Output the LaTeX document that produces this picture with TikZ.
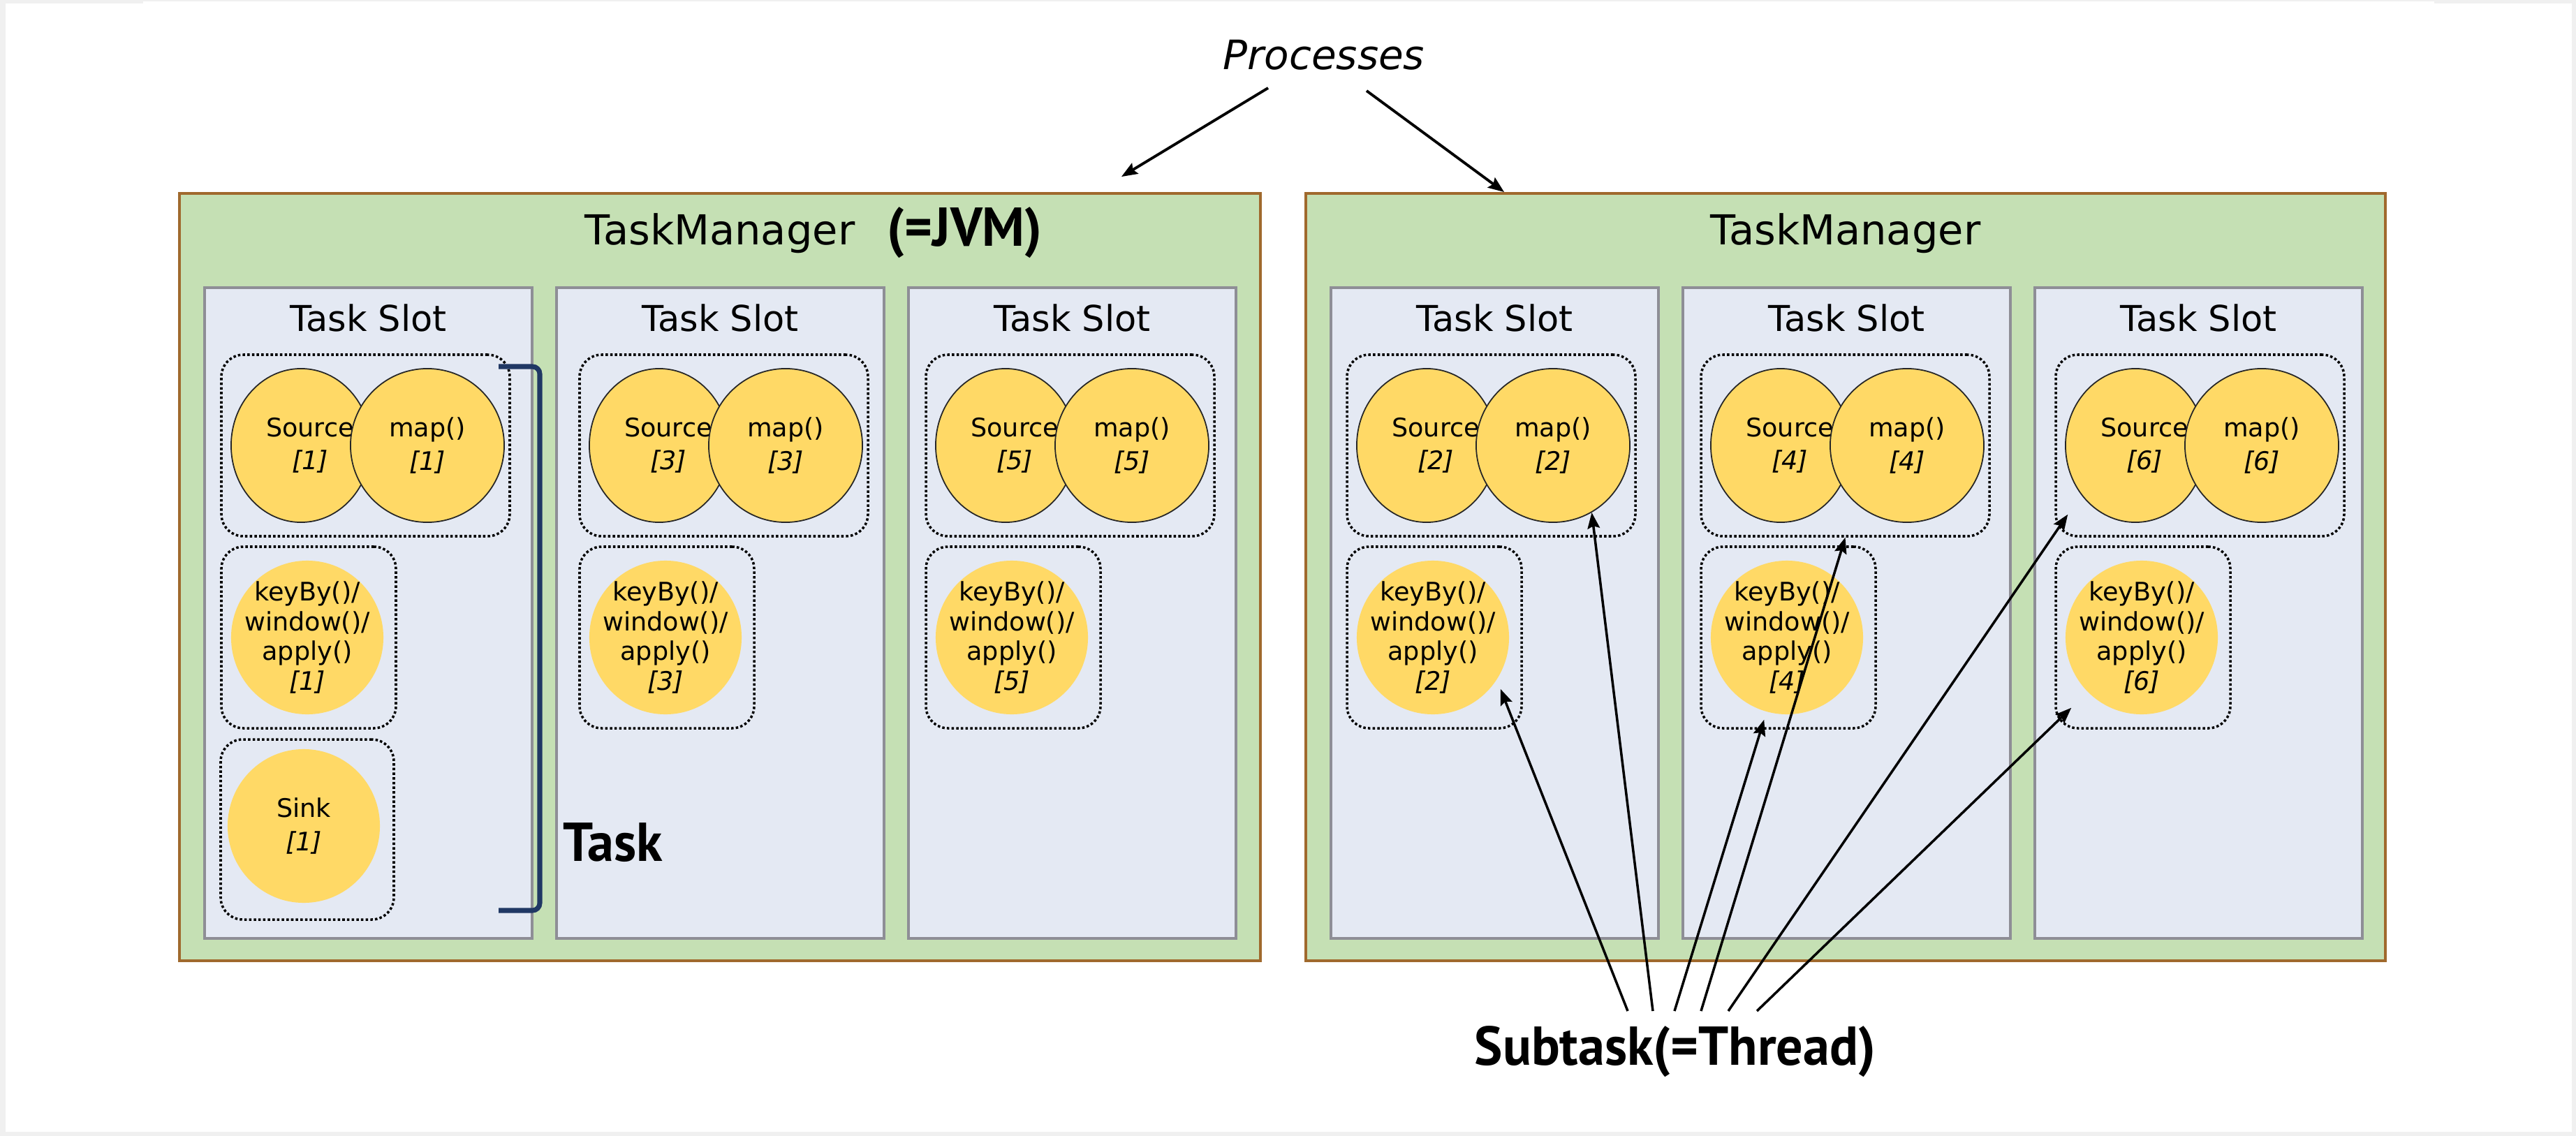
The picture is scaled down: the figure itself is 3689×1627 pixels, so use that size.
\documentclass[tikz,border=0pt]{standalone}
\usepackage{fontspec}
\setmainfont{DejaVu Sans}
\newfontfamily\heavy{PT Sans}[FakeStretch=0.97]
\usetikzlibrary{arrows.meta,calc,fit,shapes.geometric}

\definecolor{tmfill}{HTML}{C5E0B4}
\definecolor{tmline}{HTML}{A0692D}
\definecolor{slotfill}{HTML}{E4E9F3}
\definecolor{slotline}{HTML}{8E8E96}
\definecolor{opfill}{HTML}{FFD966}
\definecolor{navy}{HTML}{203864}
\definecolor{framegray}{HTML}{F0F0F0}

\tikzset{
  tm/.style={draw=tmline, fill=tmfill, line width=1.1pt, inner sep=0pt},
  slot/.style={draw=slotline, fill=slotfill, line width=1.2pt, inner sep=0pt},
  grp/.style={draw=black, line width=1pt, dash pattern=on 1pt off 0.9pt,
              rounded corners=9pt, inner sep=0pt},
  chain/.style={ellipse, draw=black!85, line width=0.5pt, fill=opfill,
                inner sep=0pt, minimum height=2.2cm},
  solo/.style={ellipse, fill=opfill, inner sep=0pt,
               minimum width=2.18cm, minimum height=2.2cm},
  optxt/.style={align=center, inner sep=0pt,
                font=\fontsize{10.4pt}{13.4pt}\selectfont},
  optxtlong/.style={align=center, inner sep=0pt,
                font=\fontsize{10.4pt}{12.2pt}\selectfont},
  tmtitle/.style={anchor=base, inner sep=0pt,
                  font=\fontsize{16.8pt}{20pt}\selectfont},
  slottitle/.style={anchor=base, inner sep=0pt,
                    font=\fontsize{14.5pt}{17pt}\selectfont},
  heavylbl/.style={inner sep=0pt, font=\heavy\bfseries\fontsize{22.3pt}{26pt}\selectfont},
  note/.style={anchor=base, inner sep=0pt,
               font=\itshape\fontsize{16.5pt}{20pt}\selectfont},
  ptr/.style={draw=black, line width=1pt,
              -{Stealth[length=6.5pt,width=5pt,inset=1pt]}},
  brace/.style={draw=navy, line width=2pt, rounded corners=3pt},
}

% One task slot's operator chains: #1 slot id, #2 left edge of the chains, #3 subtask index
\newcommand\opslot[3]{%
  \node[grp, fit={(#2,508) (#2+413,768)}] (ga#1) {};
  \node[chain, minimum width=2.0cm] (src#1) at (#2+114,638) {};
  \node[optxt] at ($(src#1)+(13,0)$) {Source\\\textit{[#3]}};
  \node[chain, minimum width=2.2cm] (map#1) at (#2+295,638) {};
  \node[optxt] at (map#1) {map()\\\textit{[#3]}};
  \node[grp, fit={(#2,783) (#2+250,1043)}] (gb#1) {};
  \node[solo] (kb#1) at (#2+123,913) {};
  \node[optxtlong] at (kb#1) {keyBy()/\\window()/\\apply()\\\textit{[#3]}};
}

\begin{document}
\begin{tikzpicture}[x=0.01cm, y=-0.01cm]
  \useasboundingbox (0,0) rectangle (3689,1627);

  % page frame
  \fill[framegray] (0,0) rectangle (3689,1627);
  \fill[white] (8,5) rectangle (3683,1621);
  \fill[white] (205,2) rectangle (3486,5);

  % task managers
  \node[tm, fit={(257,277) (1805,1376)}] (tm1) {};
  \node[tm, fit={(1870,277) (3416,1376)}] (tm2) {};
  \node[tmtitle] (tm1t) at (1031,350) {TaskManager};
  \node[tmtitle] (tm2t) at (2643,350) {TaskManager};
  \node[heavylbl, anchor=base west] (jvm) at (1270,352) {(=JVM)};

  % task slots
  \node[slot, fit={(293,412) (762,1344)}] (slot1) {};
  \node[slot, fit={(797,412) (1266,1344)}] (slot3) {};
  \node[slot, fit={(1301,412) (1770,1344)}] (slot5) {};
  \node[slot, fit={(1906,412) (2375,1344)}] (slot2) {};
  \node[slot, fit={(2410,412) (2879,1344)}] (slot4) {};
  \node[slot, fit={(2914,412) (3383,1344)}] (slot6) {};
  \foreach \s in {1,2,3,4,5,6}
    \node[slottitle] (slot\s t) at ($(slot\s.north)+(0,65)$) {Task Slot};

  % operator chains
  \opslot{1}{317}{1}
  \opslot{3}{830}{3}
  \opslot{5}{1326}{5}
  \opslot{2}{1929}{2}
  \opslot{4}{2436}{4}
  \opslot{6}{2944}{6}

  % sink chain of the first slot
  \node[grp, fit={(316,1059) (564,1317)}] (gc1) {};
  \node[solo] (sink1) at (435,1183) {};
  \node[optxt] at (sink1) {Sink\\\textit{[1]}};

  % bracket marking one task
  \draw[brace] (714,525) -- (773,525) -- (773,1304) -- (714,1304);
  \node[heavylbl, anchor=base west] (tasklbl) at (806,1233) {Task};

  % processes
  \node[note] (proc) at (1896,100) {Processes};
  \coordinate (p1) at (1816,126);
  \coordinate (p2) at (1957,130);
  \draw[ptr, line width=1.1pt] (p1) -- ($(tm1.north east)+(-201,-22)$);
  \draw[ptr, line width=1.1pt] (p2) -- ($(tm2.north west)+(286,0)$);

  % subtasks
  \node[heavylbl, anchor=base] (sub) at (2399,1525) {Subtask(=Thread)};
  \coordinate (s1) at (2331,1448);
  \coordinate (s2) at (2367,1448);
  \coordinate (s3) at (2398,1448);
  \coordinate (s4) at (2436,1448);
  \coordinate (s5) at (2475,1448);
  \coordinate (s6) at (2516,1448);
  \draw[ptr] (s1) -- ($(gb2.south east)+(-32,-58)$);
  \draw[ptr] (s2) -- (map2.-60);
  \draw[ptr] (s3) -- ($(gb4.south west)+(92,-14)$);
  \draw[ptr] (s4) -- (ga4.south);
  \draw[ptr] (s5) -- ($(ga6.south west)+(19,-33)$);
  \draw[ptr] (s6) -- ($(gb6.south west)+(24,-31)$);
\end{tikzpicture}
\end{document}
